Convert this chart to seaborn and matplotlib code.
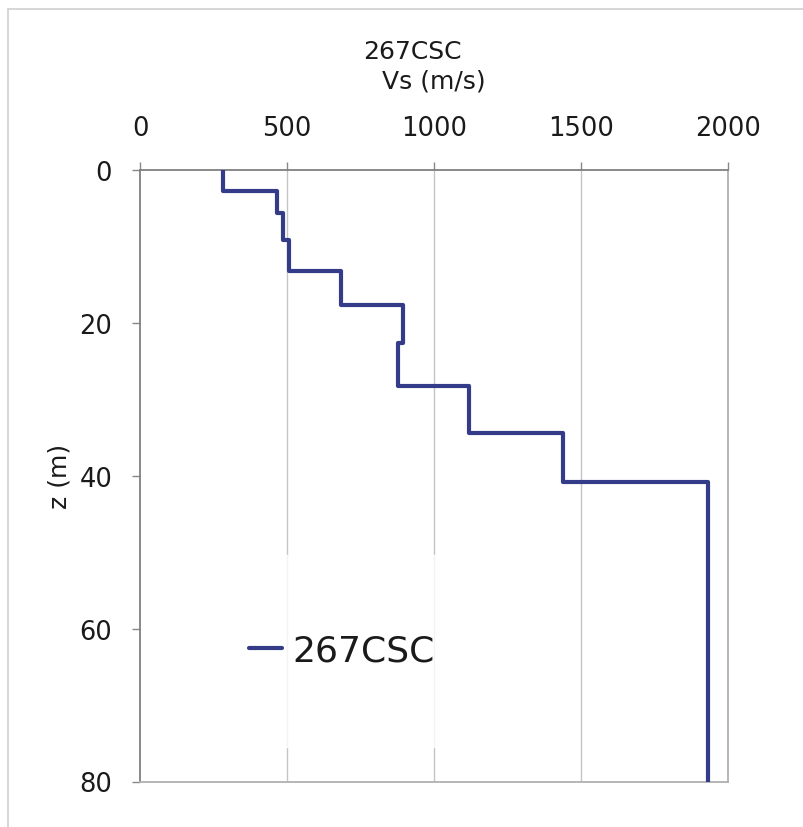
import numpy as np
import pandas as pd
import matplotlib.pyplot as plt
import seaborn as sns
from matplotlib.lines import Line2D

# ── Data: Vs profile, layer tops (m) and shear-wave velocity (m/s) ────────────
site_name = "267CSC"
layer_top = [0.0, 2.8, 5.6, 9.2, 13.2, 17.7, 22.6, 28.3, 34.4, 40.8]
layer_vs = [282, 465, 485, 506, 684, 895, 878, 1119, 1438, 1933]
max_depth = 80.0

x_ticks = [0, 500, 1000, 1500, 2000]
y_ticks = [0, 20, 40, 60, 80]

# build the stair-step profile from the layer table
bottoms = layer_top[1:] + [max_depth]
vs_pts, z_pts = [], []
for top, bot, vs in zip(layer_top, bottoms, layer_vs):
    vs_pts += [vs, vs]
    z_pts += [top, bot]
prof = pd.DataFrame({"vs": vs_pts, "z": z_pts, "site": site_name})

# ── Plot ──────────────────────────────────────────────────────────────────────
sns.set_theme(style="white")
plt.rcParams['font.family'] = ['DejaVu Sans']

LINE = '#343c8a'
fig = plt.figure(figsize=(8.04, 8.28), dpi=100)
ax = fig.add_axes([140 / 804, 1 - 782.5 / 828, 588 / 804, 611.8 / 828])

for v in x_ticks[1:-1]:
    ax.axvline(v, color='#c4c4c4', lw=1.0, zorder=1)

sns.lineplot(data=prof, x="vs", y="z", hue="site", palette=[LINE],
             sort=False, estimator=None, lw=3, ax=ax, zorder=3)

ax.set_xlim(0, 2000)
ax.set_ylim(max_depth, 0)
ax.set_xticks(x_ticks)
ax.set_yticks(y_ticks)
ax.xaxis.tick_top()
ax.tick_params(axis='x', top=True, bottom=False, length=6, width=1,
               color='#888888', pad=15, labelsize=18.5, labelcolor='#1a1a1a')
ax.tick_params(axis='y', left=True, length=6, width=1,
               color='#888888', pad=14, labelsize=18.5, labelcolor='#1a1a1a')
ax.set_xlabel('')
ax.set_ylabel('z (m)', fontsize=18, color='#1a1a1a', labelpad=6)

for side in ['top', 'left']:
    ax.spines[side].set_color('#808080')
    ax.spines[side].set_linewidth(1.3)
for side in ['right', 'bottom']:
    ax.spines[side].set_color('#b0b0b0')
    ax.spines[side].set_linewidth(1.3)

fig.text(412 / 804, 1 - 52 / 828, site_name, ha='center', va='center',
         fontsize=18, color='#1a1a1a')
fig.text(434 / 804, 1 - 81 / 828, 'Vs (m/s)', ha='center', va='center',
         fontsize=18, color='#1a1a1a')

leg = ax.legend(loc='center', bbox_to_anchor=(342 / 804, 1 - 652 / 828),
                bbox_transform=fig.transFigure, fontsize=26, frameon=True,
                handlelength=0.9, handletextpad=0.3, borderpad=2.2)
leg.get_frame().set_facecolor('white')
leg.get_frame().set_edgecolor('white')
leg.set_zorder(5)
for t in leg.get_texts():
    t.set_color('#1a1a1a')

# light outer chart border (top and left visible)
fig.add_artist(Line2D([8 / 804, 8 / 804], [0, 1 - 10 / 828], color='#d0d0d0', lw=1.2))
fig.add_artist(Line2D([8 / 804, 1], [1 - 10 / 828, 1 - 10 / 828], color='#d0d0d0', lw=1.2))

plt.savefig('out.png', dpi=100)
